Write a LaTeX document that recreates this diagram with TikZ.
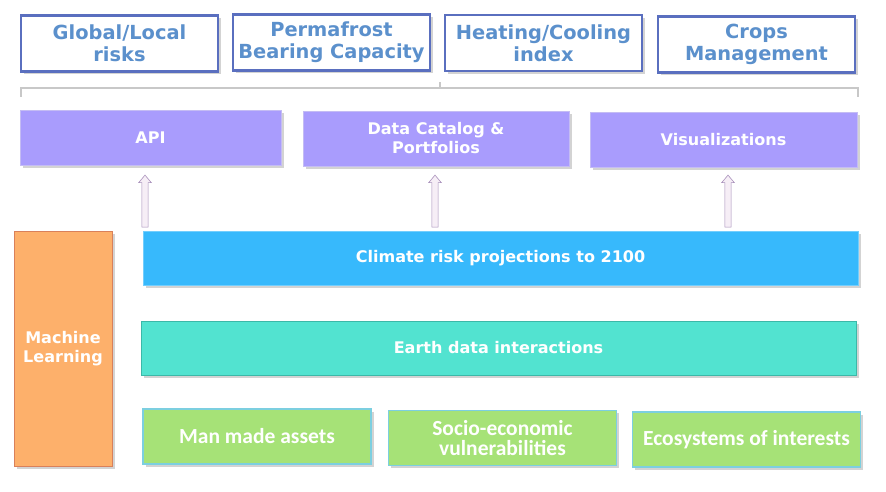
\documentclass[tikz,border=0pt]{standalone}
\usepackage{fontspec}
\setmainfont{DejaVu Sans}
\newfontfamily\greenfont{Carlito}
\usetikzlibrary{shadows,shapes.arrows}
\definecolor{topedge}{HTML}{5A6FBF}
\definecolor{toptext}{HTML}{5B90CC}
\definecolor{apifill}{HTML}{A99CFD}
\definecolor{apiedge}{HTML}{C4BCF4}
\definecolor{arrowedge}{HTML}{A58CB8}
\definecolor{arrowfill}{HTML}{F6EEF6}
\definecolor{climfill}{HTML}{37B9FC}
\definecolor{earthfill}{HTML}{52E3D0}
\definecolor{earthedge}{HTML}{3CB8A8}
\definecolor{mlfill}{HTML}{FDB06B}
\definecolor{mledge}{HTML}{D9805A}
\definecolor{greenfill}{HTML}{A6E277}
\definecolor{greenedge}{HTML}{7CCFE0}
\definecolor{bracegray}{HTML}{C8C8C8}
\begin{document}
\begin{tikzpicture}[x=0.025cm, y=-0.025cm,
	box/.style={minimum width=#1*0.025cm, align=center, inner sep=0pt,
		drop shadow={shadow xshift=2pt, shadow yshift=-2pt, opacity=0.35}},
	topbox/.style={box=197, minimum height=1.4cm, draw=topedge, line width=2pt, fill=white,
		text=toptext, font=\bfseries\fontsize{13.8}{15.5}\selectfont},
	apibox/.style={box=#1, minimum height=1.375cm, fill=apifill, draw=apiedge,
		text=white, font=\bfseries\fontsize{11.4}{13.5}\selectfont},
	barbox/.style={box=715, minimum height=1.35cm, text=white, font=\bfseries\fontsize{11.4}{13.5}\selectfont},
	greenbox/.style={box=228, minimum height=1.375cm, fill=greenfill, draw=greenedge, line width=0.8pt,
		text=white, font=\greenfont\bfseries\fontsize{15.3}{14.5}\selectfont},
	hollow/.style={single arrow, shape border rotate=90, draw=arrowedge, fill=arrowfill,
		minimum width=9pt, single arrow head extend=2pt, single arrow tip angle=80,
		inner sep=1.8pt, minimum height=#1*0.025cm}]
	\useasboundingbox (0,0) rectangle (886,492);
	% top row
	\node[topbox] (glob) at (119.5, 43.5) {Global/Local\\risks};
	\node[topbox] (perm) at (331.5, 42.5) {Permafrost\\Bearing Capacity};
	\node[topbox] (heat) at (543.5, 43) {Heating/Cooling\\index};
	\node[topbox] (crop) at (756.5, 44.5) {Crops\\Management};
	\draw[bracegray, line width=1.5pt] (21, 97) -- (21, 88) -- (858, 88) -- (858, 97);
	\draw[bracegray, line width=1.5pt] (440, 88) -- (440, 82);
	% services
	\node[apibox=261] (api) at (150.5, 137.5) {API};
	\node[apibox=266] (cat) at (436, 138.5) {Data Catalog \&\\Portfolios};
	\node[apibox=267] (vis) at (723.5, 139.5) {Visualizations};
	% layers
	\node[barbox, fill=climfill, draw=climfill!70!white] (clim) at (500.5, 258) {Climate risk projections to 2100};
	\node[barbox, fill=earthfill, draw=earthedge] (earth) at (498.5, 348) {Earth data interactions};
	\node[box=98, minimum height=5.875cm, fill=mlfill, draw=mledge, text=white,
		font=\bfseries\fontsize{11.4}{13.5}\selectfont] (ml) at (63, 348.5) {Machine\\Learning};
	\node[greenbox] (man) at (257, 436.5) {Man made assets};
	\node[greenbox] (soc) at (502.5, 438) {Socio-economic\\vulnerabilities};
	\node[greenbox] (eco) at (746.5, 439.5) {Ecosystems of interests};
	% arrows
	\coordinate (a1) at (145, 229);
	\coordinate (a2) at (435, 229);
	\coordinate (a3) at (728, 229);
	\coordinate (b1) at (145, 177);
	\coordinate (b2) at (435, 177);
	\coordinate (b3) at (728, 177);
	\path (a1) -- (b1) node[midway, hollow=52] {};
	\path (a2) -- (b2) node[midway, hollow=52] {};
	\path (a3) -- (b3) node[midway, hollow=52] {};
\end{tikzpicture}
\end{document}
